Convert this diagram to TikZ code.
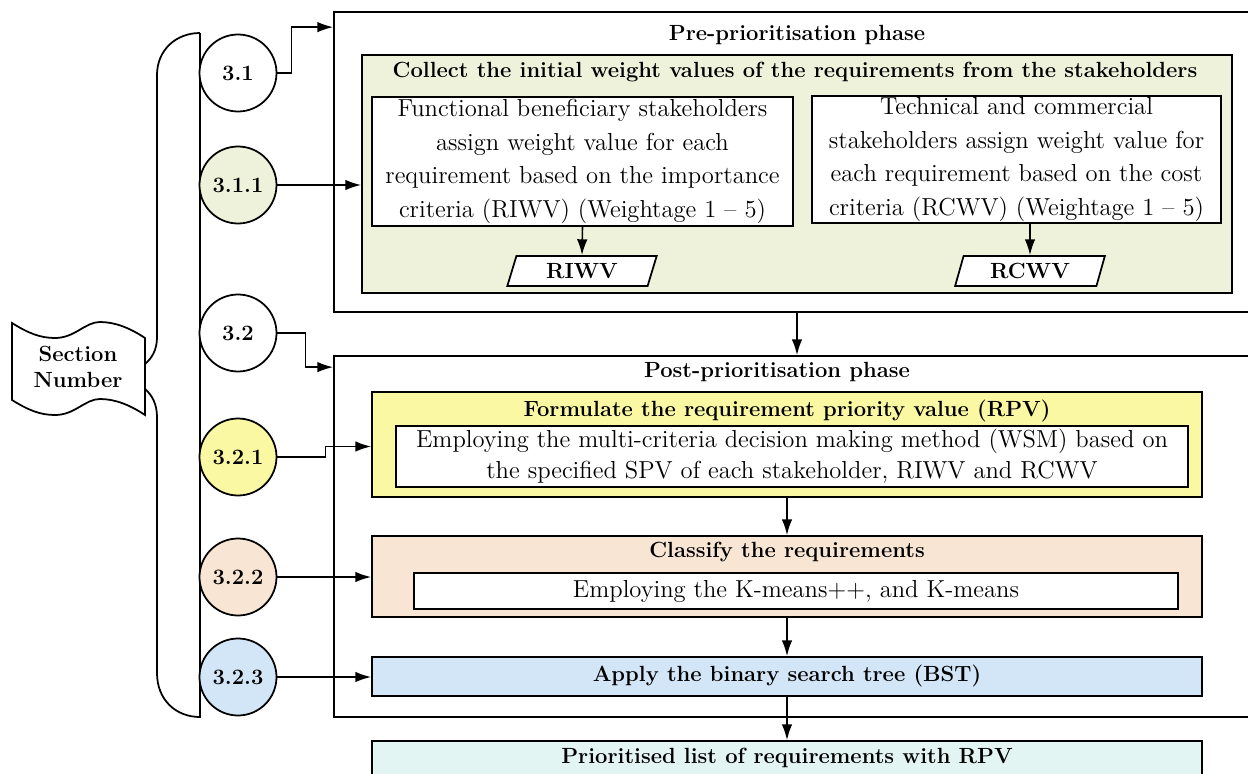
\documentclass[tikz,border=0pt]{standalone}
\usepackage{tikz}
\usetikzlibrary{calc,arrows.meta,shapes.geometric}

\definecolor{collectcol}{HTML}{EEF2DA}
\definecolor{rpvcol}{HTML}{FAF8A3}
\definecolor{clscol}{HTML}{F8E5D3}
\definecolor{bstcol}{HTML}{D3E6F8}
\definecolor{outcol}{HTML}{E3F5F2}

\newcommand{\pxl}[1]{#1*0.02cm}

\tikzset{
    secnode/.style={circle, draw, fill=white, line width=1pt, minimum size={\pxl{77}}, inner sep=0pt,
        font=\fontsize{12.5}{15}\selectfont\bfseries},
    phasebox/.style={draw, line width=1pt, inner sep=0pt},
    stepbox/.style={draw, line width=1pt, inner sep=0pt},
    txtbox/.style={draw, fill=white, line width=1pt, inner sep=0pt, align=center,
        font=\fontsize{14}{19}\selectfont},
    ttl/.style={inner sep=0pt, align=center, font=\fontsize{12.5}{15}\selectfont\bfseries},
    databox/.style={trapezium, trapezium left angle=72, trapezium right angle=108, trapezium stretches,
        draw, fill=white, line width=1pt, minimum width={\pxl{150}}, minimum height={\pxl{30}},
        inner sep=0pt, font=\fontsize{12.5}{15}\selectfont\bfseries},
    arr/.style={line width=0.9pt, -{Latex[length=9pt,width=6pt]}},
}

\begin{document}
\begin{tikzpicture}[x=0.02cm, y=-0.02cm]
    \useasboundingbox (0,0) rectangle (1248,774);
    \clip (0,0) rectangle (1248,774);

    % bracket round the section numbers
    \draw[line width=1pt] (200,33) .. controls (176,33) and (157,50) .. (157,75) -- (157,337)
        .. controls (157,350) and (152,358) .. (145,364);
    \draw[line width=1pt] (145,389) .. controls (152,395) and (157,404) .. (157,417) -- (157,673)
        .. controls (157,700) and (176,717) .. (200,717) -- (200,33);

    \draw[line width=1pt, fill=white] (12,323) .. controls (28,333) and (40,338) .. (55,338)
        .. controls (75,338) and (85,322) .. (100,322) .. controls (115,322) and (130,328) .. (145,338)
        -- (145,415) .. controls (130,405) and (115,399) .. (100,399)
        .. controls (85,399) and (75,415) .. (55,415) .. controls (40,415) and (28,410) .. (12,400) -- cycle;
    \node[ttl] (secnum) at (78,367) {Section\\Number};

    \node[secnode] (c31) at (238,73) {3.1};
    \node[secnode, fill=collectcol] (c311) at (238,185) {3.1.1};
    \node[secnode] (c32) at (238,333) {3.2};
    \node[secnode, fill=rpvcol] (c321) at (238,457) {3.2.1};
    \node[secnode, fill=clscol] (c322) at (238,577) {3.2.2};
    \node[secnode, fill=bstcol] (c323) at (238,677) {3.2.3};

    % pre-prioritisation
    \node[phasebox, minimum width={\pxl{926}}, minimum height={\pxl{300}}] (pre) at (797,162) {};
    \node[ttl] (pretitle) at (797,35) {Pre-prioritisation phase};
    \node[stepbox, fill=collectcol, minimum width={\pxl{870}}, minimum height={\pxl{238}}] (collect) at (797,174) {};
    \node[ttl] (collecttitle) at (795,72) {Collect the initial weight values of the requirements from the stakeholders};
    \node[txtbox, minimum width={\pxl{421}}, minimum height={\pxl{129}}] (fbs) at (582.5,161.5)
        {Functional beneficiary stakeholders\\ assign weight value for each\\ requirement based on the importance\\ criteria (RIWV) (Weightage 1 -- 5)};
    \node[txtbox, minimum width={\pxl{409}}, minimum height={\pxl{127}}] (tcs) at (1016.5,159.5)
        {Technical and commercial\\ stakeholders assign weight value for\\ each requirement based on the cost\\ criteria (RCWV) (Weightage 1 -- 5)};
    \node[databox] (riwv) at (582,271) {RIWV};
    \node[databox] (rcwv) at (1030,271) {RCWV};

    % post-prioritisation
    \node[phasebox, minimum width={\pxl{926}}, minimum height={\pxl{361}}] (post) at (797,536.5) {};
    \node[ttl] (posttitle) at (777,372) {Post-prioritisation phase};
    \node[stepbox, fill=rpvcol, minimum width={\pxl{830}}, minimum height={\pxl{105}}] (rpv) at (787,444.5) {};
    \node[ttl] (rpvtitle) at (787,411) {Formulate the requirement priority value (RPV)};
    \node[txtbox, minimum width={\pxl{792}}, minimum height={\pxl{61}}, font=\fontsize{14}{17.6}\selectfont] (wsm) at (792,456.5)
        {Employing the multi-criteria decision making method (WSM) based on\\ the specified SPV of each stakeholder, RIWV and RCWV};
    \node[stepbox, fill=clscol, minimum width={\pxl{830}}, minimum height={\pxl{81}}] (cls) at (787,576.5) {};
    \node[ttl] (clstitle) at (787,552) {Classify the requirements};
    \node[txtbox, minimum width={\pxl{764}}, minimum height={\pxl{36}}] (kmeans) at (796,591) {Employing the K-means++, and K-means};
    \node[stepbox, fill=bstcol, minimum width={\pxl{830}}, minimum height={\pxl{39}}, font=\fontsize{12.5}{15}\selectfont\bfseries] (bst) at (787,676.5)
        {Apply the binary search tree (BST)};
    \node[stepbox, fill=outcol, minimum width={\pxl{830}}, minimum height={\pxl{70}}] (final) at (787,776) {};
    \node[ttl] (finaltitle) at (787,758) {Prioritised list of requirements with RPV};

    % connectors
    \draw[arr] (c31.east) -- ++(14,0) |- ($(pre.north west)+(0,16)$);
    \draw[arr] (c311.east) -- (collect.west |- c311);
    \draw[arr] (c32.east) -- ++(28,0) |- ($(post.north west)+(0,12)$);
    \draw[arr] (c321.east) -- ++(48,0) |- ($(rpv.west)+(0,2)$);
    \draw[arr] (c322.east) -- (cls.west |- c322);
    \draw[arr] (c323.east) -- (bst.west |- c323);

    \draw[arr] (fbs.south) -- (riwv.north);
    \draw[arr] (rcwv.north |- tcs.south) -- (rcwv.north);
    \draw[arr] (pre.south) -- (post.north);
    \draw[arr] (rpv.south) -- (cls.north);
    \draw[arr] (cls.south) -- (bst.north);
    \draw[arr] (bst.south) -- (final.north);
\end{tikzpicture}
\end{document}
